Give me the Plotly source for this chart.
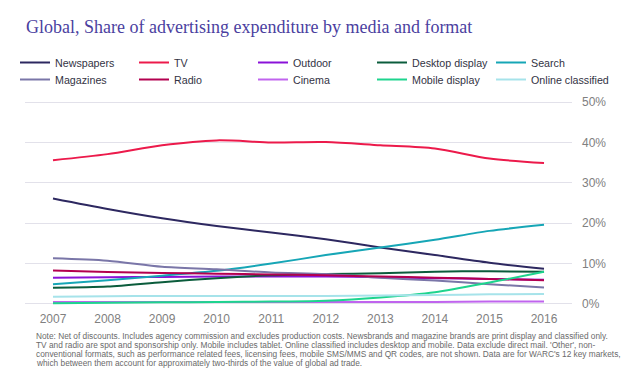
import plotly.graph_objects as go

years = [2007, 2008, 2009, 2010, 2011, 2012, 2013, 2014, 2015, 2016]

newspapers = [26.1, 23.5, 21.2, 19.3, 17.7, 16.0, 14.0, 12.1, 10.2, 8.7]
tv = [35.6, 37.1, 39.3, 40.5, 40.0, 40.1, 39.3, 38.5, 36.0, 34.9]
outdoor = [6.5, 6.6, 6.7, 6.8, 6.8, 6.8, 6.6, 6.4, 6.2, 6.0]
desktop_display = [4.0, 4.3, 5.4, 6.4, 7.1, 7.4, 7.6, 8.0, 8.1, 8.0]
search = [4.9, 5.9, 7.0, 8.2, 10.0, 12.1, 14.0, 15.9, 18.1, 19.6]
magazines = [11.3, 10.7, 9.2, 8.6, 7.8, 7.4, 6.5, 5.8, 4.9, 4.1]
radio = [8.3, 7.9, 7.7, 7.5, 7.3, 7.1, 6.8, 6.5, 6.2, 5.9]
cinema = [0.5, 0.5, 0.5, 0.5, 0.5, 0.5, 0.5, 0.5, 0.6, 0.6]
mobile_display = [0.2, 0.3, 0.4, 0.5, 0.6, 0.8, 1.6, 2.9, 5.3, 8.0]
online_classified = [1.8, 1.9, 2.0, 2.0, 2.0, 2.0, 2.1, 2.2, 2.4, 2.5]

y_ticks = [0, 10, 20, 30, 40, 50]

# (name, values, colour, legend row)
series = [
    ("Newspapers", newspapers, "#2d2860", "legend"),
    ("TV", tv, "#ec1a4b", "legend"),
    ("Outdoor", outdoor, "#8a12d8", "legend"),
    ("Desktop display", desktop_display, "#0b5c3c", "legend"),
    ("Search", search, "#16a6b6", "legend"),
    ("Magazines", magazines, "#7a76a8", "legend2"),
    ("Radio", radio, "#b3004f", "legend2"),
    ("Cinema", cinema, "#c064ee", "legend2"),
    ("Mobile display", mobile_display, "#1ed48e", "legend2"),
    ("Online classified", online_classified, "#a6e3ea", "legend2"),
]

title_text = "Global, Share of advertising expenditure by media and format"
note_lines = [
    "Note: Net of discounts. Includes agency commission and excludes production costs. Newsbrands and magazine brands are print display and classified only.",
    "TV and radio are spot and sponsorship only. Mobile includes tablet. Online classified includes desktop and mobile. Data exclude direct mail. 'Other', non-",
    "conventional formats, such as performance related fees, licensing fees, mobile SMS/MMS and QR codes, are not shown. Data are for WARC's 12 key markets,",
    "which between them account for approximately two-thirds of the value of global ad trade.",
]

fig = go.Figure()
for name, vals, color, leg in series:
    fig.add_trace(go.Scatter(
        x=years, y=vals, name=name, mode="lines", legend=leg,
        line=dict(color=color, width=2, shape="spline", smoothing=0.8),
    ))

# The page body has an 8px default margin; work in page pixels and subtract it.
OFF = 8
W, H = 640 - OFF, 374 - OFF
ml = 25 - OFF
mr = W - (572 - OFF)
mt = 100 - OFF
mb = H - (306 - OFF)
plot_w = W - ml - mr
plot_h = H - mt - mb

def py(ypage):
    return (H - mb - (ypage - OFF)) / plot_h

def px(xpage):
    return ((xpage - OFF) - ml) / plot_w

annotations = []
for i, line in enumerate(note_lines):
    annotations.append(dict(
        text=line, xref="paper", yref="paper",
        x=px(34), y=py(336 + 9 * i),
        xanchor="left", yanchor="middle", showarrow=False,
        font=dict(family="Liberation Sans, Arial, sans-serif", size=8.3, color="#6a6a6a"),
    ))

legend_font = dict(family="Liberation Sans, Arial, sans-serif", size=10.7, color="#333344")
ENTRY = 74
row_w = 4 * (ENTRY + 45) + (ENTRY + 40) + 5
leg_left = 55 - 40  # page x of first item's origin

def legend_row(center_y):
    return dict(
        orientation="h", x=px(leg_left + row_w), xanchor="right",
        y=py(center_y - 15), yanchor="top",
        entrywidth=ENTRY, entrywidthmode="pixels",
        font=legend_font, itemwidth=30, bgcolor="rgba(0,0,0,0)",
    )

fig.update_layout(
    width=W, height=H,
    margin=dict(l=ml, r=mr, t=mt, b=mb, autoexpand=False),
    paper_bgcolor="white", plot_bgcolor="white",
    title=dict(
        text=title_text, xref="container", yref="container",
        x=(26 - OFF) / W, xanchor="left", y=1 - (27 - OFF) / H, yanchor="middle",
        font=dict(family="Liberation Serif, Times New Roman, serif", size=18, color="#4b3f9f"),
    ),
    showlegend=True,
    legend=legend_row(63),
    legend2=legend_row(80),
    xaxis=dict(
        range=[2006.487, 2016.513], tickmode="array", tickvals=years,
        ticktext=[str(y) for y in years], showgrid=False, zeroline=False,
        showline=False, ticks="", ticklabelstandoff=4,
        tickfont=dict(family="Liberation Sans, Arial, sans-serif", size=12, color="#808080"),
    ),
    yaxis=dict(
        range=[-0.5, 50.5], side="right", tickmode="array", tickvals=y_ticks,
        ticktext=[f"{v}%" for v in y_ticks], showgrid=True, gridcolor="#e2e1ea",
        gridwidth=1, zeroline=False, showline=False,
        ticks="", ticklabelstandoff=9,
        tickfont=dict(family="Liberation Sans, Arial, sans-serif", size=12, color="#808080"),
    ),
    annotations=annotations,
)

fig.write_html("out.html")
